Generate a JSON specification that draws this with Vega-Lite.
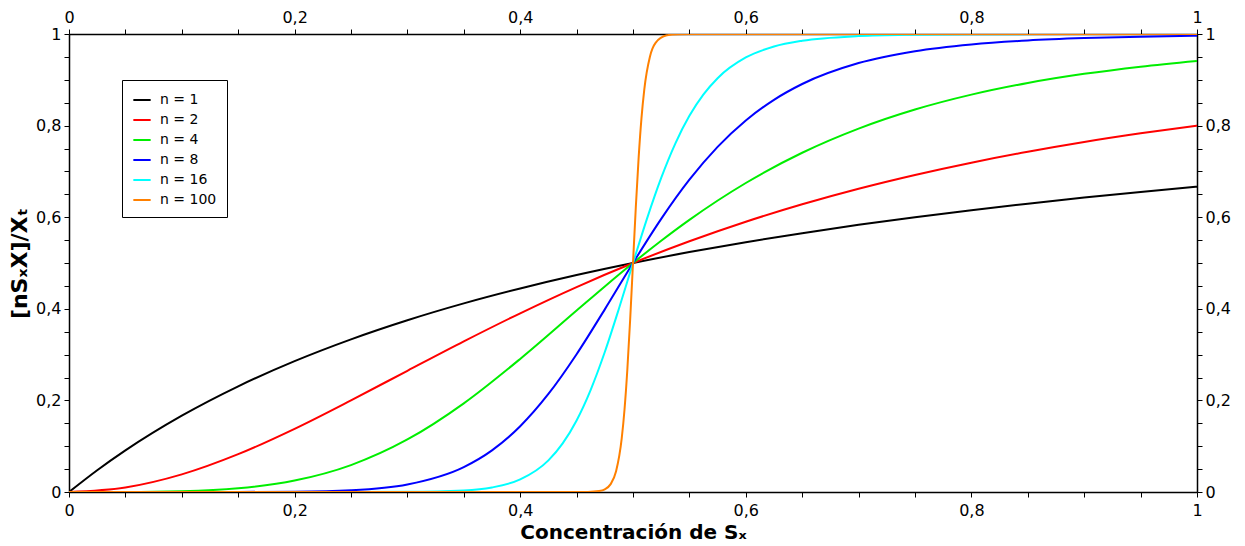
{
  "$schema": "https://vega.github.io/schema/vega-lite/v6.json",
  "width": 1128,
  "height": 458,
  "autosize": {"type": "none"},
  "padding": {"left": 69, "top": 34, "right": 48, "bottom": 54},
  "background": "white",
  "config": {
    "view": {"stroke": null},
    "font": "DejaVu Sans",
    "axis": {
      "grid": false,
      "domainColor": "black",
      "domainWidth": 1.5,
      "tickColor": "black",
      "tickWidth": 1,
      "tickSize": 5,
      "labelColor": "black",
      "labelFont": "DejaVu Sans",
      "labelFontSize": 16,
      "titleColor": "black",
      "titleFont": "DejaVu Sans",
      "titleFontWeight": "bold",
      "titleFontSize": 20
    }
  },
  "datasets": {
    "curves": [
      {"n": "n = 1", "x": 0, "y": 0},
      {"n": "n = 1", "x": 0.025, "y": 0.0476},
      {"n": "n = 1", "x": 0.05, "y": 0.0909},
      {"n": "n = 1", "x": 0.1, "y": 0.1667},
      {"n": "n = 1", "x": 0.15, "y": 0.2308},
      {"n": "n = 1", "x": 0.2, "y": 0.2857},
      {"n": "n = 1", "x": 0.25, "y": 0.3333},
      {"n": "n = 1", "x": 0.3, "y": 0.375},
      {"n": "n = 1", "x": 0.35, "y": 0.4118},
      {"n": "n = 1", "x": 0.4, "y": 0.4444},
      {"n": "n = 1", "x": 0.45, "y": 0.4737},
      {"n": "n = 1", "x": 0.5, "y": 0.5},
      {"n": "n = 1", "x": 0.55, "y": 0.5238},
      {"n": "n = 1", "x": 0.6, "y": 0.5455},
      {"n": "n = 1", "x": 0.65, "y": 0.5652},
      {"n": "n = 1", "x": 0.7, "y": 0.5833},
      {"n": "n = 1", "x": 0.75, "y": 0.6},
      {"n": "n = 1", "x": 0.8, "y": 0.6154},
      {"n": "n = 1", "x": 0.85, "y": 0.6296},
      {"n": "n = 1", "x": 0.9, "y": 0.6429},
      {"n": "n = 1", "x": 0.95, "y": 0.6552},
      {"n": "n = 1", "x": 1, "y": 0.6667},

      {"n": "n = 2", "x": 0, "y": 0},
      {"n": "n = 2", "x": 0.05, "y": 0.0099},
      {"n": "n = 2", "x": 0.1, "y": 0.0385},
      {"n": "n = 2", "x": 0.15, "y": 0.0826},
      {"n": "n = 2", "x": 0.2, "y": 0.1379},
      {"n": "n = 2", "x": 0.25, "y": 0.2},
      {"n": "n = 2", "x": 0.3, "y": 0.2647},
      {"n": "n = 2", "x": 0.35, "y": 0.3289},
      {"n": "n = 2", "x": 0.4, "y": 0.3902},
      {"n": "n = 2", "x": 0.45, "y": 0.4475},
      {"n": "n = 2", "x": 0.5, "y": 0.5},
      {"n": "n = 2", "x": 0.55, "y": 0.5475},
      {"n": "n = 2", "x": 0.6, "y": 0.5902},
      {"n": "n = 2", "x": 0.65, "y": 0.6283},
      {"n": "n = 2", "x": 0.7, "y": 0.6622},
      {"n": "n = 2", "x": 0.75, "y": 0.6923},
      {"n": "n = 2", "x": 0.8, "y": 0.7191},
      {"n": "n = 2", "x": 0.85, "y": 0.7429},
      {"n": "n = 2", "x": 0.9, "y": 0.7642},
      {"n": "n = 2", "x": 0.95, "y": 0.7831},
      {"n": "n = 2", "x": 1, "y": 0.8},

      {"n": "n = 4", "x": 0, "y": 0},
      {"n": "n = 4", "x": 0.05, "y": 0.0001},
      {"n": "n = 4", "x": 0.1, "y": 0.0016},
      {"n": "n = 4", "x": 0.15, "y": 0.008},
      {"n": "n = 4", "x": 0.2, "y": 0.025},
      {"n": "n = 4", "x": 0.25, "y": 0.0588},
      {"n": "n = 4", "x": 0.3, "y": 0.1147},
      {"n": "n = 4", "x": 0.35, "y": 0.1936},
      {"n": "n = 4", "x": 0.4, "y": 0.2906},
      {"n": "n = 4", "x": 0.45, "y": 0.3962},
      {"n": "n = 4", "x": 0.475, "y": 0.4489},
      {"n": "n = 4", "x": 0.5, "y": 0.5},
      {"n": "n = 4", "x": 0.525, "y": 0.5486},
      {"n": "n = 4", "x": 0.55, "y": 0.5942},
      {"n": "n = 4", "x": 0.6, "y": 0.6747},
      {"n": "n = 4", "x": 0.65, "y": 0.7407},
      {"n": "n = 4", "x": 0.7, "y": 0.7934},
      {"n": "n = 4", "x": 0.75, "y": 0.8351},
      {"n": "n = 4", "x": 0.8, "y": 0.8676},
      {"n": "n = 4", "x": 0.85, "y": 0.8931},
      {"n": "n = 4", "x": 0.9, "y": 0.913},
      {"n": "n = 4", "x": 0.95, "y": 0.9287},
      {"n": "n = 4", "x": 1, "y": 0.9412},

      {"n": "n = 8", "x": 0, "y": 0},
      {"n": "n = 8", "x": 0.1, "y": 0},
      {"n": "n = 8", "x": 0.15, "y": 0.0001},
      {"n": "n = 8", "x": 0.2, "y": 0.0007},
      {"n": "n = 8", "x": 0.25, "y": 0.0039},
      {"n": "n = 8", "x": 0.3, "y": 0.0165},
      {"n": "n = 8", "x": 0.35, "y": 0.0545},
      {"n": "n = 8", "x": 0.375, "y": 0.091},
      {"n": "n = 8", "x": 0.4, "y": 0.1437},
      {"n": "n = 8", "x": 0.425, "y": 0.2141},
      {"n": "n = 8", "x": 0.45, "y": 0.3009},
      {"n": "n = 8", "x": 0.475, "y": 0.3988},
      {"n": "n = 8", "x": 0.5, "y": 0.5},
      {"n": "n = 8", "x": 0.525, "y": 0.5964},
      {"n": "n = 8", "x": 0.55, "y": 0.6819},
      {"n": "n = 8", "x": 0.575, "y": 0.7536},
      {"n": "n = 8", "x": 0.6, "y": 0.8113},
      {"n": "n = 8", "x": 0.625, "y": 0.8563},
      {"n": "n = 8", "x": 0.65, "y": 0.8908},
      {"n": "n = 8", "x": 0.7, "y": 0.9365},
      {"n": "n = 8", "x": 0.75, "y": 0.9624},
      {"n": "n = 8", "x": 0.8, "y": 0.9772},
      {"n": "n = 8", "x": 0.85, "y": 0.9859},
      {"n": "n = 8", "x": 0.9, "y": 0.991},
      {"n": "n = 8", "x": 0.95, "y": 0.9941},
      {"n": "n = 8", "x": 1, "y": 0.9961},

      {"n": "n = 16", "x": 0, "y": 0},
      {"n": "n = 16", "x": 0.2, "y": 0},
      {"n": "n = 16", "x": 0.25, "y": 0.00002},
      {"n": "n = 16", "x": 0.3, "y": 0.0003},
      {"n": "n = 16", "x": 0.35, "y": 0.0033},
      {"n": "n = 16", "x": 0.375, "y": 0.0099},
      {"n": "n = 16", "x": 0.4, "y": 0.0274},
      {"n": "n = 16", "x": 0.425, "y": 0.0691},
      {"n": "n = 16", "x": 0.4375, "y": 0.1056},
      {"n": "n = 16", "x": 0.45, "y": 0.1563},
      {"n": "n = 16", "x": 0.4625, "y": 0.2232},
      {"n": "n = 16", "x": 0.475, "y": 0.3056},
      {"n": "n = 16", "x": 0.4875, "y": 0.4001},
      {"n": "n = 16", "x": 0.5, "y": 0.5},
      {"n": "n = 16", "x": 0.5125, "y": 0.5975},
      {"n": "n = 16", "x": 0.525, "y": 0.6858},
      {"n": "n = 16", "x": 0.5375, "y": 0.7608},
      {"n": "n = 16", "x": 0.55, "y": 0.8213},
      {"n": "n = 16", "x": 0.5625, "y": 0.8681},
      {"n": "n = 16", "x": 0.575, "y": 0.9035},
      {"n": "n = 16", "x": 0.6, "y": 0.9487},
      {"n": "n = 16", "x": 0.625, "y": 0.9726},
      {"n": "n = 16", "x": 0.65, "y": 0.9852},
      {"n": "n = 16", "x": 0.7, "y": 0.9954},
      {"n": "n = 16", "x": 0.75, "y": 0.9985},
      {"n": "n = 16", "x": 0.8, "y": 0.9995},
      {"n": "n = 16", "x": 0.9, "y": 0.9999},
      {"n": "n = 16", "x": 1, "y": 1},

      {"n": "n = 100", "x": 0, "y": 0},
      {"n": "n = 100", "x": 0.4, "y": 0},
      {"n": "n = 100", "x": 0.45, "y": 0.00003},
      {"n": "n = 100", "x": 0.46, "y": 0.0002},
      {"n": "n = 100", "x": 0.47, "y": 0.0021},
      {"n": "n = 100", "x": 0.475, "y": 0.0059},
      {"n": "n = 100", "x": 0.48, "y": 0.0166},
      {"n": "n = 100", "x": 0.485, "y": 0.0454},
      {"n": "n = 100", "x": 0.49, "y": 0.1171},
      {"n": "n = 100", "x": 0.4925, "y": 0.1807},
      {"n": "n = 100", "x": 0.495, "y": 0.268},
      {"n": "n = 100", "x": 0.4975, "y": 0.3772},
      {"n": "n = 100", "x": 0.5, "y": 0.5},
      {"n": "n = 100", "x": 0.5025, "y": 0.6222},
      {"n": "n = 100", "x": 0.505, "y": 0.7301},
      {"n": "n = 100", "x": 0.5075, "y": 0.8159},
      {"n": "n = 100", "x": 0.51, "y": 0.8787},
      {"n": "n = 100", "x": 0.515, "y": 0.9505},
      {"n": "n = 100", "x": 0.52, "y": 0.9806},
      {"n": "n = 100", "x": 0.53, "y": 0.9971},
      {"n": "n = 100", "x": 0.54, "y": 0.9996},
      {"n": "n = 100", "x": 0.55, "y": 0.9999},
      {"n": "n = 100", "x": 0.6, "y": 1},
      {"n": "n = 100", "x": 1, "y": 1}
    ]
  },
  "layer": [
    {
      "data": {"name": "curves"},
      "mark": {"type": "line", "interpolate": "monotone", "strokeWidth": 2, "clip": true},
      "encoding": {
        "x": {
          "field": "x", "type": "quantitative",
          "scale": {"domain": [0, 1], "nice": false, "zero": false},
          "axis": {
            "orient": "bottom",
            "title": "Concentración de Sₓ",
            "titlePadding": 4,
            "values": [0,0.05,0.1,0.15,0.2,0.25,0.3,0.35,0.4,0.45,0.5,0.55,0.6,0.65,0.7,0.75,0.8,0.85,0.9,0.95,1],
            "labelExpr": "abs(datum.value*5 - round(datum.value*5)) < 0.001 ? replace(format(datum.value, '.1~f'), '.', ',') : ''",
            "labelPadding": 5,
            "labelFlush": false,
            "labelOverlap": false
          }
        },
        "y": {
          "field": "y", "type": "quantitative",
          "scale": {"domain": [0, 1], "nice": false, "zero": false},
          "axis": {
            "orient": "left",
            "title": "[nSₓX]/Xₜ",
            "titleFontSize": 22,
            "titlePadding": 4,
            "values": [0,0.05,0.1,0.15,0.2,0.25,0.3,0.35,0.4,0.45,0.5,0.55,0.6,0.65,0.7,0.75,0.8,0.85,0.9,0.95,1],
            "labelExpr": "abs(datum.value*5 - round(datum.value*5)) < 0.001 ? replace(format(datum.value, '.1~f'), '.', ',') : ''",
            "labelPadding": 3,
            "labelFlush": false,
            "labelOverlap": false
          }
        },
        "color": {
          "field": "n", "type": "nominal",
          "scale": {
            "domain": ["n = 1", "n = 2", "n = 4", "n = 8", "n = 16", "n = 100"],
            "range": ["#000000", "#ff0000", "#00ee00", "#0000ff", "#00ffff", "#ff8000"]
          },
          "legend": {
            "title": null,
            "orient": "none",
            "legendX": 53,
            "legendY": 46,
            "symbolType": "stroke",
            "symbolStrokeWidth": 2,
            "symbolSize": 300,
            "labelFont": "DejaVu Sans",
            "labelFontSize": 14,
            "labelColor": "black",
            "strokeColor": "black",
            "fillColor": "white",
            "padding": 10,
            "rowPadding": 3,
            "labelOffset": 8
          }
        }
      }
    },
    {
      "mark": {"type": "rule", "color": "black", "strokeWidth": 1.5, "strokeDash": [6, 4]},
      "encoding": {
        "x": {
          "datum": 0.5, "type": "quantitative",
          "scale": {"domain": [0, 1], "nice": false, "zero": false},
          "axis": null
        }
      }
    },
    {
      "data": {"name": "curves"},
      "mark": {"type": "line", "strokeOpacity": 0},
      "encoding": {
        "x": {
          "field": "x", "type": "quantitative",
          "scale": {"domain": [0, 1], "nice": false, "zero": false},
          "axis": {
            "orient": "top",
            "title": null,
            "values": [0,0.05,0.1,0.15,0.2,0.25,0.3,0.35,0.4,0.45,0.5,0.55,0.6,0.65,0.7,0.75,0.8,0.85,0.9,0.95,1],
            "labelExpr": "abs(datum.value*5 - round(datum.value*5)) < 0.001 ? replace(format(datum.value, '.1~f'), '.', ',') : ''",
            "labelPadding": 4,
            "labelFlush": false,
            "labelOverlap": false
          }
        },
        "y": {
          "field": "y", "type": "quantitative",
          "scale": {"domain": [0, 1], "nice": false, "zero": false},
          "axis": {
            "orient": "right",
            "title": null,
            "values": [0,0.05,0.1,0.15,0.2,0.25,0.3,0.35,0.4,0.45,0.5,0.55,0.6,0.65,0.7,0.75,0.8,0.85,0.9,0.95,1],
            "labelExpr": "abs(datum.value*5 - round(datum.value*5)) < 0.001 ? replace(format(datum.value, '.1~f'), '.', ',') : ''",
            "labelPadding": 3,
            "labelFlush": false,
            "labelOverlap": false
          }
        },
        "detail": {"field": "n"}
      }
    }
  ],
  "resolve": {"scale": {"x": "independent", "y": "independent", "color": "independent"}}
}
